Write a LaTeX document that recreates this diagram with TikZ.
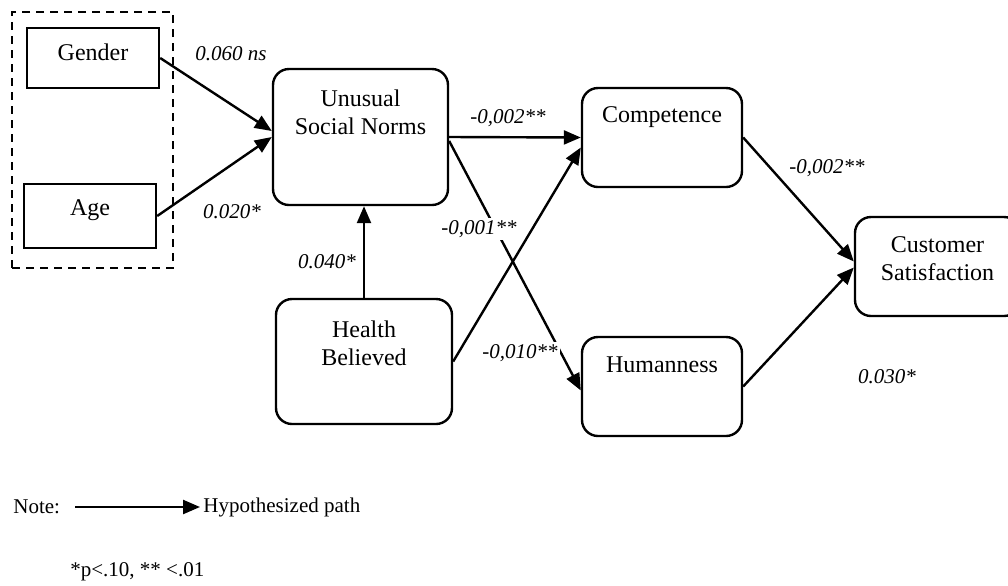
\documentclass[tikz,border=0pt]{standalone}
\usepackage{fontspec}
\setmainfont{Liberation Serif}
\usetikzlibrary{arrows.meta}

\begin{document}
\begin{tikzpicture}[
  x=0.5pt, y=-0.5pt,
  var/.style={rectangle, draw, line width=1.2pt, rounded corners=8pt, inner sep=0pt},
  ctrl/.style={var, rounded corners=0pt},
  boxtext/.style={anchor=north, yshift=#1, align=center, font=\fontsize{12}{14}\selectfont},
  boxtext/.default=-7pt,
  coef/.style={font=\fontsize{10.5}{12}\selectfont\itshape, inner sep=1pt},
  arrow/.style={-{Triangle[length=8.5pt,width=7pt]}, line width=1.2pt},
  note/.style={font=\fontsize{10.5}{12}\selectfont, inner sep=0pt, anchor=west}
]
  \useasboundingbox (0,0) rectangle (1008,585);
  \clip (0,0) rectangle (1008,585);

  % control variables
  \node[ctrl, dash pattern=on 4pt off 3pt, minimum width=80.5pt, minimum height=128pt] (controls) at (92.5,140) {};
  \node[ctrl, minimum width=66pt, minimum height=30pt, label={[boxtext=-5pt]north:Gender}] (gender) at (93,58) {};
  \node[ctrl, minimum width=66pt, minimum height=32pt, label={[boxtext=-5pt]north:Age}] (age) at (90,216) {};

  % constructs
  \node[var, minimum width=87.5pt, minimum height=68pt, label={[boxtext=-7.5pt]north:{Unusual\\Social Norms}}] (usn) at (360.5,137) {};
  \node[var, minimum width=88pt, minimum height=62.5pt, label={[boxtext=-8pt]north:{Health\\Believed}}] (health) at (364,361.5) {};
  \node[var, minimum width=80pt, minimum height=49.5pt, label={[boxtext=-6.5pt]north:Competence}] (comp) at (662,137.5) {};
  \node[var, minimum width=80pt, minimum height=49.5pt, label={[boxtext]north:Humanness}] (hum) at (662,386.5) {};
  \node[var, minimum width=82.5pt, minimum height=49.5pt, label={[boxtext]north:{Customer\\Satisfaction}}] (cs) at (937.5,266.5) {};

  % paths
  \draw[arrow] (gender.east) -- ([yshift=3pt]usn.west);
  \draw[arrow] (age.east) -- (usn.west);
  \draw[arrow] (health.north) -- (health.north |- usn.south);
  \draw[arrow] (usn.east) -- (comp.west);
  \draw[arrow] ([yshift=-2pt]usn.east) -- ([yshift=-2pt]hum.west);
  \draw[arrow] (health.east) -- ([yshift=-5pt]comp.west);
  \draw[arrow] (comp.east) -- ([yshift=2.5pt]cs.west);
  \draw[arrow] (hum.east) -- ([yshift=-0.5pt]cs.west);

  % coefficients
  \node[coef] (c-gen) at (231,54) {0.060 ns};
  \node[coef] (c-age) at (232,212) {0.020*};
  \node[coef] (c-hlth) at (327,262) {0.040*};
  \node[coef] (c-uc) at (508,118) {-0,002**};
  \node[coef, fill=white] (c-uh) at (479,229) {-0,001**};
  \node[coef, fill=white] (c-hc) at (520,353) {-0,010**};
  \node[coef] (c-cs) at (827,168) {-0,002**};
  \node[coef] (c-hs) at (887,377) {0.030*};

  % legend
  \node[note] (note) at (13,507) {Note:};
  \node[note] (hyp) at (203,507) {Hypothesized path};
  \draw[arrow] ([xshift=7.5pt]note.east) -- ([xshift=-1.5pt]hyp.west);
  \node[note] (sig) at (70,572) {*p<.10, ** <.01};
\end{tikzpicture}
\end{document}
